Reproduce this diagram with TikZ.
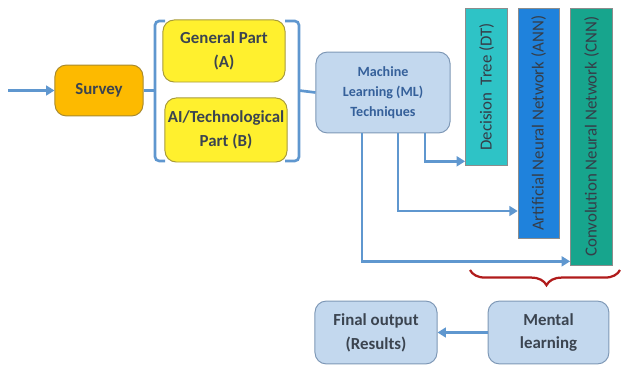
\documentclass[tikz,border=0pt]{standalone}
\usepackage{fontspec}
\setmainfont{Carlito}
\usetikzlibrary{arrows.meta,decorations.pathreplacing}

\definecolor{linkblue}{HTML}{5F97CF}
\definecolor{surveyfill}{HTML}{FDBA00}
\definecolor{surveyline}{HTML}{A88A2E}
\definecolor{partfill}{HTML}{FFF02E}
\definecolor{partline}{HTML}{A89B3A}
\definecolor{mlfill}{HTML}{C3D8EE}
\definecolor{mlline}{HTML}{7E98B6}
\definecolor{dtfill}{HTML}{2EC3C6}
\definecolor{annfill}{HTML}{1F82DC}
\definecolor{cnnfill}{HTML}{17A58D}
\definecolor{txtgray}{HTML}{3B4450}
\definecolor{mltext}{HTML}{35609A}
\definecolor{bracered}{HTML}{B01B1B}

\begin{document}
\begin{tikzpicture}[x=0.025cm, y=0.025cm,
  box/.style={draw, rounded corners=8pt, line width=0.7pt, align=center,
    font=\bfseries\large, text=txtgray, inner sep=2pt},
  bar/.style={draw=black!45, line width=0.5pt, anchor=north,
    minimum width=1.05cm, text=txtgray!90!black, font=\large},
  link/.style={draw=linkblue, line width=1.9pt},
  arr/.style={link, -{Triangle[length=6pt,width=7pt]}}]
\useasboundingbox (0,0) rectangle (621,-366);
% left part
\node [box, fill=surveyfill, draw=surveyline, minimum width=2.2cm,
  minimum height=1.27cm] (survey) at (99,-90.5) {Survey};
\node [box, fill=partfill, draw=partline, minimum width=3.05cm,
  minimum height=1.55cm] (gen) at (224,-51) {General Part\\[3pt](A)};
\node [box, fill=partfill, draw=partline, minimum width=3.05cm,
  minimum height=1.6cm] (ai) at (226,-130) {AI/Technological\\[3pt]Part (B)};
\node [box, fill=mlfill, draw=mlline, minimum width=3.35cm,
  minimum height=2.02cm, text=mltext, font=\bfseries] (ml) at (383,-92.5)
  {Machine\\[2pt]Learning (ML)\\[2pt]Techniques};
% techniques
\node [bar, fill=dtfill, minimum height=3.92cm] (dt) at (486.5,-8)
  {\rotatebox{90}{Decision\ \ Tree (DT)}};
\node [bar, fill=annfill, minimum height=5.75cm, minimum width=1.02cm] (ann) at (538.5,-8)
  {\rotatebox{90}{Artificial Neural Network (ANN)}};
\node [bar, fill=cnnfill, minimum height=6.42cm] (cnn) at (591.5,-8)
  {\rotatebox{90}{Convolution Neural Network (CNN)}};
% bottom
\node [box, fill=mlfill, draw=mlline, minimum width=3.02cm,
  minimum height=1.57cm] (mental) at (548.5,-332.5) {Mental\\[3pt]learning};
\node [box, fill=mlfill, draw=mlline, minimum width=3.05cm,
  minimum height=1.57cm] (final) at (376,-332.5) {Final output\\[3pt](Results)};
\coordinate (in) at (8,-90.5);
% brackets
\draw [link, rounded corners=3pt] (165,-21) -- (155,-21) -- (155,-161) -- (165,-161);
\draw [link, rounded corners=3pt] (285,-21) -- (299,-21) -- (299,-161) -- (285,-161);
\draw [link] (survey.east) -- (155,-90.5);
\draw [link] (299,-90.5) -- (ml.west);
% arrows
\draw [arr] (in) -- (survey.west);
\draw [arr] (ml.south -| 425,0) |- ([yshift=3]dt.south west);
\draw [arr] (ml.south -| 398,0) |- (ann.west |- 0,-211);
\draw [arr] (ml.south -| 362,0) |- ([yshift=3]cnn.south west);
\draw [arr] (mental.west) -- (final.east);
% red brace
\draw [draw=bracered, line width=1.6pt,
  decorate, decoration={brace, mirror, amplitude=0.38cm, aspect=0.51}]
  (470,-270) -- (620,-270);
\end{tikzpicture}
\end{document}
